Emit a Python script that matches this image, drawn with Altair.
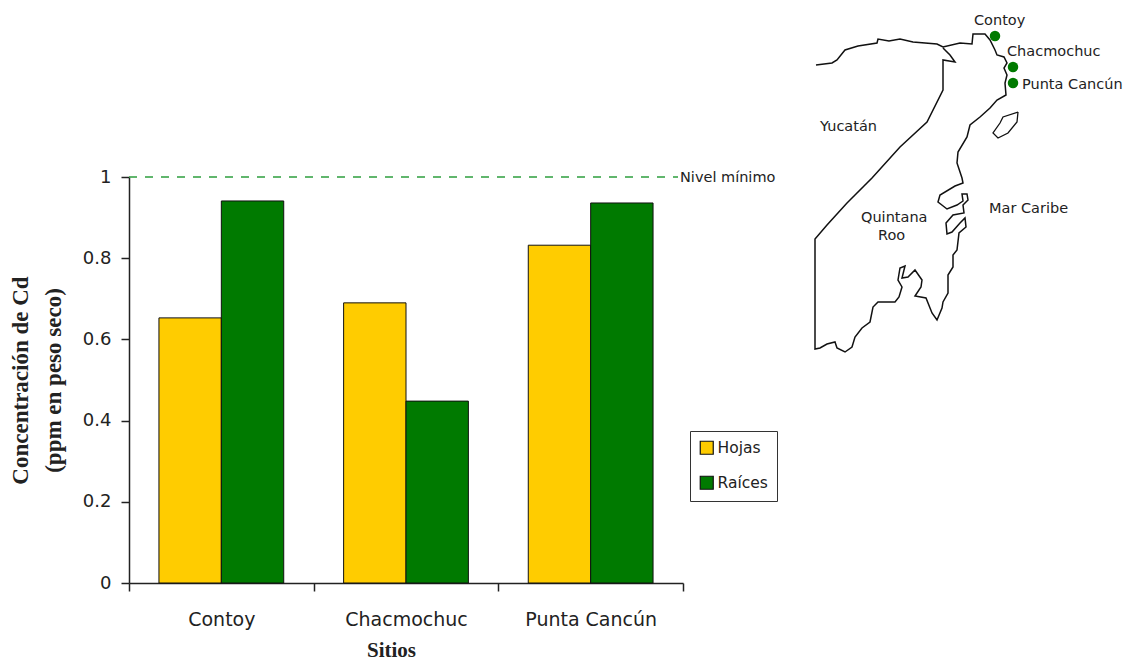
import altair as alt
import pandas as pd

# Cadmium concentration per site and tissue
sites = ["Contoy", "Chacmochuc", "Punta Cancún"]
tissues = ["Hojas", "Raíces"]
hojas = [0.653, 0.690, 0.832]
raices = [0.941, 0.448, 0.936]
threshold = 1
y_ticks = [0, 0.2, 0.4, 0.6, 0.8, 1]

# Coastline of the peninsula, in map units
coast_x = [816, 832, 837, 845, 858, 877, 878, 889, 900, 913, 937, 943, 960, 972, 973, 985, 990, 995, 997,
           1004, 1007, 1004, 1007, 1005, 1006, 997, 990, 980, 970, 967, 958, 957, 962, 963, 955, 940, 938,
           947, 957, 963, 962, 967, 968, 963, 964, 953, 946, 947, 952, 960, 965, 966, 959, 957, 953, 953,
           948, 948, 943, 942, 937, 932, 926, 915, 921, 922, 915, 908, 902, 905, 900, 898, 902, 899, 895,
           878, 873, 870, 862, 855, 852, 845, 837, 835, 827, 820, 815, 815, 827, 847, 872, 900, 927, 943,
           943, 955, 950, 943]
coast_y = [65, 63, 60, 50, 46, 43, 39, 41, 39, 42, 44, 47, 43, 44, 34, 34, 40, 50, 55,
           57, 63, 68, 75, 83, 95, 100, 108, 117, 125, 137, 152, 163, 178, 183, 186, 195, 202,
           209, 205, 201, 194, 194, 200, 205, 213, 215, 223, 234, 232, 223, 218, 227, 233, 250, 255, 267,
           275, 293, 302, 308, 320, 313, 298, 296, 287, 280, 270, 277, 278, 266, 268, 280, 287, 297, 302,
           302, 307, 322, 328, 337, 347, 352, 348, 342, 344, 348, 349, 239, 225, 203, 178, 147, 122, 90,
           60, 62, 55, 48]

# Cozumel island
island_x = [1018, 1003, 1000, 993, 998, 1008, 1017, 1018]
island_y = [112, 117, 123, 133, 138, 133, 122, 112]

# Sampling sites on the map
dot_x = [995, 1013, 1013]
dot_y = [36, 67, 83]

# Place names on the map
place_names = ["Contoy", "Chacmochuc", "Punta Cancún", "Yucatán", "Quintana", "Roo", "Mar Caribe"]
place_x = [974, 1007, 1022, 820, 861, 878, 989]
place_y = [20, 51, 84, 126, 217, 235, 208]

LABEL_FONT = "DejaVu Sans"
TITLE_FONT = "Liberation Serif"
INK = "#222222"

bars = pd.DataFrame({
    "sitio": sites * 2,
    "tejido": [tissues[0]] * 3 + [tissues[1]] * 3,
    "cd": hojas + raices,
})
coast = pd.DataFrame({"x": coast_x, "y": coast_y, "i": range(len(coast_x))})
island = pd.DataFrame({"x": island_x, "y": island_y, "i": range(len(island_x))})
dots = pd.DataFrame({"x": dot_x, "y": dot_y})
places = pd.DataFrame({"x": place_x, "y": place_y, "name": place_names})
level = pd.DataFrame({"v": [threshold]})

value_scale = alt.Scale(domain=[0, 1], range=[583, 177], nice=False, zero=True)
map_xs = alt.Scale(domain=[0, 1126], range=[0, 1126], nice=False, zero=False)
map_ys = alt.Scale(domain=[0, 661], range=[0, 661], nice=False, zero=False)
map_x = alt.X("x:Q", scale=map_xs, axis=None)
map_y = alt.Y("y:Q", scale=map_ys, axis=None)

bar_layer = alt.Chart(bars).mark_bar(stroke="#111111", strokeWidth=1).encode(
    x=alt.X(
        "sitio:N",
        sort=sites,
        scale=alt.Scale(range=[129, 683], paddingInner=0, paddingOuter=0),
        axis=alt.Axis(
            title="Sitios", titleFont=TITLE_FONT, titleFontSize=21, titleFontWeight="bold",
            titleColor=INK, titleX=391, titlePadding=10,
            offset=-78, orient="bottom", tickBand="extent", tickSize=8, tickColor=INK,
            domainColor=INK, domainWidth=1.5, tickWidth=1.5,
            labelFont=LABEL_FONT, labelFontSize=19, labelColor=INK, labelPadding=19, labelAngle=0,
            grid=False,
        ),
    ),
    xOffset=alt.XOffset(
        "tejido:N", sort=tissues, scale=alt.Scale(paddingInner=0, paddingOuter=0.48)
    ),
    y=alt.Y(
        "cd:Q",
        scale=value_scale,
        axis=alt.Axis(
            title=["Concentración de Cd", "(ppm en peso seco)"], titleFont=TITLE_FONT, titleFontSize=23,
            titleFontWeight="bold", titleColor=INK, titleLineHeight=33, titlePadding=17,
            offset=-129, orient="left", values=y_ticks, format=".1~f", tickSize=8, tickColor=INK,
            domainColor=INK, domainWidth=1.5, tickWidth=1.5,
            labelFont=LABEL_FONT, labelFontSize=18, labelColor=INK, labelPadding=10,
            grid=False,
        ),
    ),
    color=alt.Color(
        "tejido:N",
        sort=tissues,
        scale=alt.Scale(domain=tissues, range=["#ffcc00", "#007a00"]),
        legend=alt.Legend(
            title=None, orient="none", legendX=690, legendY=431, strokeColor="#333333", fillColor="white",
            padding=9, symbolType="square", symbolSize=169, symbolStrokeColor="#111111",
            symbolStrokeWidth=1.2, symbolOpacity=1, rowPadding=16,
            labelFont=LABEL_FONT, labelFontSize=15.5, labelColor=INK, labelOffset=3,
        ),
    ),
)

level_rule = alt.Chart(level).mark_rule(color="#2e9e3e", strokeWidth=1.5, strokeDash=[8, 8]).encode(
    y=alt.Y("v:Q", scale=value_scale, axis=None),
    x=alt.value(129),
    x2=alt.value(678),
)
level_label = alt.Chart(level).mark_text(
    text="Nivel mínimo", align="left", baseline="middle", dy=1, font=LABEL_FONT, fontSize=14.5, color=INK
).encode(
    y=alt.Y("v:Q", scale=value_scale, axis=None),
    x=alt.value(680),
)

coast_line = alt.Chart(coast).mark_line(color="#111111", strokeWidth=1.5).encode(
    x=map_x, y=map_y, order="i:Q"
)
island_line = alt.Chart(island).mark_line(color="#111111", strokeWidth=1.3).encode(
    x=map_x, y=map_y, order="i:Q"
)
site_dots = alt.Chart(dots).mark_circle(color="#007a00", opacity=1, size=110).encode(x=map_x, y=map_y)
place_text = alt.Chart(places).mark_text(
    align="left", baseline="middle", dy=1, font=LABEL_FONT, fontSize=14.5, color=INK
).encode(x=map_x, y=map_y, text="name:N")

chart = alt.layer(
    bar_layer, level_rule, level_label, coast_line, island_line, site_dots, place_text
).resolve_scale(
    x="independent", y="independent", color="independent"
).properties(
    width=1126, height=661, padding=0, autosize=alt.AutoSizeParams(type="none"), background="white"
).configure_view(stroke=None)

chart.save("out.html", embed_options={"renderer": "svg", "actions": False})
